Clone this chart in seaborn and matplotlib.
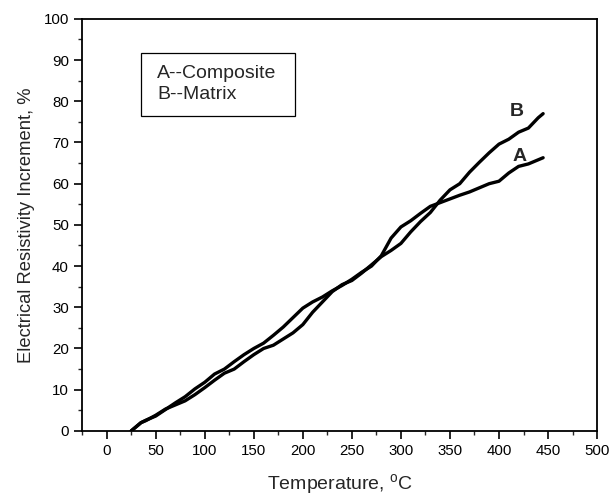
import matplotlib
matplotlib.use("Agg")
import matplotlib.pyplot as plt
import seaborn as sns
import pandas as pd
from matplotlib.patches import Rectangle
from matplotlib.ticker import MultipleLocator

# --- DADOS ---
temp = [25, 30, 35, 40, 50, 60, 70, 80, 90, 100, 110, 120, 130, 140, 150,
        160, 170, 180, 190, 200, 210, 220, 230, 240, 250, 260, 270, 280,
        290, 300, 310, 320, 330, 340, 350, 360, 370, 380, 390, 400, 410,
        420, 430, 440, 445]

# A -- Composite
curve_a = [0.0, 1.0, 2.0, 2.6, 3.6, 5.2, 6.8, 8.3, 10.2, 11.8, 13.8, 15.0,
           16.8, 18.5, 20.0, 21.3, 23.2, 25.2, 27.5, 29.8, 31.3, 32.5, 34.0,
           35.3, 36.8, 38.5, 40.0, 42.5, 46.8, 49.5, 51.0, 52.8, 54.5, 55.4,
           56.3, 57.2, 58.0, 59.0, 60.0, 60.6, 62.6, 64.2, 64.8, 65.8, 66.3]

# B -- Matrix
curve_b = [0.0, 1.0, 2.0, 2.5, 3.8, 5.3, 6.3, 7.3, 8.8, 10.5, 12.3, 14.0,
           15.0, 16.8, 18.5, 20.0, 20.8, 22.3, 23.8, 25.8, 28.8, 31.3, 33.8,
           35.5, 36.5, 38.3, 40.3, 42.3, 43.8, 45.5, 48.3, 50.8, 53.0, 56.0,
           58.5, 60.0, 62.8, 65.2, 67.5, 69.6, 70.8, 72.5, 73.5, 76.0, 77.0]

legend_text = "A--Composite\nB--Matrix"

df = pd.DataFrame({
    "temp": temp * 2,
    "value": curve_a + curve_b,
    "curve": ["A"] * len(temp) + ["B"] * len(temp),
})

sns.set_style("ticks")
plt.rcParams["font.family"] = ["Liberation Sans", "DejaVu Sans"]

fig = plt.figure(figsize=(6.13, 4.97), dpi=100)
ax = fig.add_axes([0.134, 0.133, 0.840, 0.829])

sns.lineplot(data=df, x="temp", y="value", hue="curve",
             palette=["black", "black"], linewidth=2.4, legend=False,
             ax=ax, sort=False)

ax.set_xlim(-25, 500)
ax.set_ylim(0, 100)
ax.xaxis.set_major_locator(MultipleLocator(50))
ax.xaxis.set_minor_locator(MultipleLocator(25))
ax.yaxis.set_major_locator(MultipleLocator(10))
ax.yaxis.set_minor_locator(MultipleLocator(5))
ax.tick_params(which="major", direction="out", length=6, width=1.2,
               labelsize=10.8, colors="black")
ax.tick_params(which="minor", direction="out", length=3, width=1.0)

for s in ax.spines.values():
    s.set_linewidth(1.3)
    s.set_color("black")

ax.set_xlabel("Temperature, $^{\\mathregular{o}}$C", fontsize=14, labelpad=10)
ax.set_ylabel("Electrical Resistivity Increment, %", fontsize=13.2, labelpad=6)

# caixa da legenda
ax.add_patch(Rectangle((35, 76.5), 157, 15.3, facecolor="white",
                       edgecolor="black", linewidth=0.9, zorder=3))
ax.text(51.5, 84.2, legend_text, fontsize=14, va="center", ha="left",
        linespacing=1.25, zorder=4)

ax.text(418, 77.5, "B", fontsize=14, fontweight="bold", ha="center", va="center")
ax.text(421, 66.5, "A", fontsize=14, fontweight="bold", ha="center", va="center")

fig.savefig("out.png", dpi=100)
